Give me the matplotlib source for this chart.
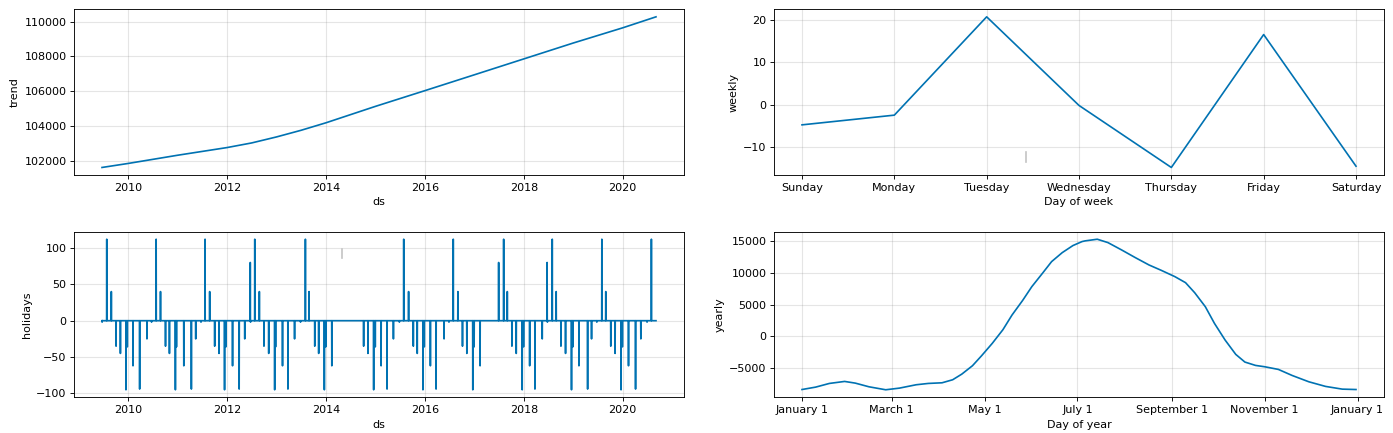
import matplotlib
matplotlib.use("Agg")
import matplotlib.pyplot as plt
import matplotlib.dates as mdates
from matplotlib.ticker import FuncFormatter
from matplotlib.lines import Line2D
import pandas as pd

# --- trend component
trend_ds = ["2009-06-22", "2010-01-01", "2011-01-01", "2012-01-01", "2012-07-01",
            "2013-01-01", "2013-07-01", "2014-01-01", "2015-01-01", "2016-01-01",
            "2017-01-01", "2018-01-01", "2019-01-01", "2020-01-01", "2020-09-03"]
trend_val = [101640, 101870, 102340, 102780, 103045,
             103390, 103770, 104200, 105140, 106040,
             106950, 107860, 108770, 109640, 110270]

# --- weekly component
weekdays = ["Sunday", "Monday", "Tuesday", "Wednesday", "Thursday", "Friday", "Saturday"]
weekly_val = [-4.8, -2.5, 20.8, -0.2, -14.9, 16.6, -14.6]

# --- yearly component (day of year -> value)
yearly_day = [0, 9, 18, 28, 35, 44, 55, 64, 75, 83, 92, 99, 105, 112, 118, 125,
              132, 138, 145, 151, 158, 164, 171, 178, 184, 186, 194, 201, 210, 219,
              228, 236, 245, 252, 258, 265, 271, 278, 285, 291, 298, 304, 313, 322,
              333, 344, 355, 364]
yearly_val = [-8380, -8000, -7420, -7105, -7370, -7950, -8420, -8160, -7630, -7420,
              -7320, -6840, -5950, -4630, -3050, -1105, 1050, 3370, 5680, 7840,
              9950, 11790, 13210, 14320, 14950, 15060, 15320, 14790, 13630, 12420,
              11260, 10420, 9420, 8470, 6890, 4680, 2050, -580, -2840, -4050,
              -4580, -4790, -5210, -6160, -7160, -7890, -8320, -8380]

# --- holidays: days on which each effect occurs
hist_start = "2009-06-22"
hist_end = "2020-09-03"
h_plus112 = ["2009-07-27", "2010-07-27", "2011-07-23", "2012-07-24", "2013-08-02",
             "2015-07-29", "2016-07-29", "2017-08-05", "2018-07-30", "2019-07-31",
             "2020-07-31"]
h_plus40 = ["2009-08-30", "2010-08-28", "2011-08-26", "2012-08-27", "2013-08-29",
            "2015-09-03", "2016-09-01", "2017-09-01", "2018-08-28", "2019-08-29"]
h_plus80 = ["2012-06-21", "2017-06-29", "2018-06-22"]
h_minus35 = ["2009-10-04", "2010-10-04", "2011-10-02", "2012-09-30", "2013-10-10",
             "2014-10-06", "2015-10-08", "2016-10-05", "2017-10-05", "2018-10-02",
             "2019-10-05"]
h_minus45 = ["2009-11-05", "2010-11-02", "2011-11-03", "2012-11-04", "2013-11-08",
             "2014-11-07", "2015-11-06", "2016-11-06", "2017-11-06", "2018-11-05",
             "2019-11-06"]
h_minus95 = ["2009-12-16", "2010-12-16", "2011-12-14", "2012-12-18", "2013-12-20",
             "2014-12-19", "2015-12-18", "2016-12-20", "2017-12-20", "2018-12-19",
             "2019-12-20"]
h_minus36 = ["2009-12-26", "2010-12-24", "2011-12-24", "2012-12-25", "2013-12-30",
             "2014-12-31", "2015-12-28", "2016-12-30", "2017-12-30", "2018-12-29",
             "2019-12-30"]
h_minus62 = ["2010-02-06", "2011-02-16", "2012-02-11", "2013-02-14", "2014-02-13",
             "2015-02-12", "2016-02-11", "2017-02-12", "2018-02-13", "2019-02-12",
             "2020-02-13"]
h_minus94 = ["2010-03-27", "2011-04-13", "2012-03-31", "2013-03-26", "2015-03-28",
             "2016-03-24", "2018-03-24", "2019-04-17", "2020-04-05"]
h_minus25 = ["2010-05-20", "2011-05-15", "2012-05-11", "2013-05-14", "2015-05-14",
             "2016-05-22", "2018-05-17", "2019-05-16", "2020-05-14"]
h_minus2 = ["2009-06-23", "2010-06-23", "2011-06-23", "2012-06-23", "2013-06-27",
            "2015-06-27", "2016-06-27", "2018-06-24", "2019-06-24", "2020-06-29"]

holiday_sets = [(h_plus112, 112), (h_plus40, 40), (h_plus80, 80), (h_minus35, -35),
                (h_minus45, -45), (h_minus95, -95), (h_minus36, -36), (h_minus62, -62),
                (h_minus94, -94), (h_minus25, -25), (h_minus2, -2)]

ds = pd.date_range(hist_start, hist_end, freq="D")
holidays = pd.Series(0.0, index=ds)
for days, eff in holiday_sets:
    holidays[pd.to_datetime(days)] += eff

blue = "#0072B2"
W, H = 1393, 433
DPI = 80
fig = plt.figure(figsize=(W / DPI, H / DPI), dpi=DPI)

def rect(x0, y0, x1, y1):
    return [x0 / W, 1 - y1 / H, (x1 - x0) / W, (y1 - y0) / H]

ax_tr = fig.add_axes(rect(74.3, 9.3, 683.7, 175))
ax_wk = fig.add_axes(rect(774.3, 9.3, 1383.7, 175))
ax_hol = fig.add_axes(rect(74.3, 231.7, 683.7, 397.3))
ax_yr = fig.add_axes(rect(774.3, 231.7, 1383.7, 397.3))

def style(ax):
    ax.grid(True, which="major", c="gray", ls="-", lw=1, alpha=0.2)

# trend
ax_tr.plot(pd.to_datetime(trend_ds), trend_val, ls="-", c=blue)
ax_tr.set_ylabel("trend")
ax_tr.set_xlabel("ds")

# holidays
ax_hol.plot(holidays.index, holidays.values, ls="-", c=blue)
ax_hol.set_ylabel("holidays")
ax_hol.set_xlabel("ds")

for ax in (ax_tr, ax_hol):
    ax.xaxis.set_major_locator(mdates.YearLocator(2))
    ax.xaxis.set_major_formatter(mdates.DateFormatter("%Y"))
    style(ax)

# weekly
ax_wk.plot(range(len(weekdays)), weekly_val, ls="-", c=blue)
ax_wk.set_xticks(range(len(weekdays)))
ax_wk.set_xticklabels(weekdays)
ax_wk.set_xlabel("Day of week")
ax_wk.set_ylabel("weekly")
style(ax_wk)

# yearly
yr_dates = pd.Timestamp("2017-01-01") + pd.to_timedelta(yearly_day, unit="D")
ax_yr.plot(yr_dates, yearly_val, ls="-", c=blue)
ax_yr.xaxis.set_major_locator(mdates.MonthLocator(bymonth=range(1, 13, 2)))
ax_yr.xaxis.set_major_formatter(
    FuncFormatter(lambda x, pos=None: "{dt:%B} {dt.day}".format(dt=mdates.num2date(x))))
ax_yr.set_xlabel("Day of year")
ax_yr.set_ylabel("yearly")
style(ax_yr)

# small grey marks present in the reference image
for x, y0, y1 in [(341.7, 249.0, 258.3), (1026.0, 151.7, 162.3)]:
    fig.add_artist(Line2D([x / W, x / W], [1 - y0 / H, 1 - y1 / H],
                          transform=fig.transFigure, color="#c4c4c4", lw=1.5))

fig.savefig("out.png", dpi=DPI)
